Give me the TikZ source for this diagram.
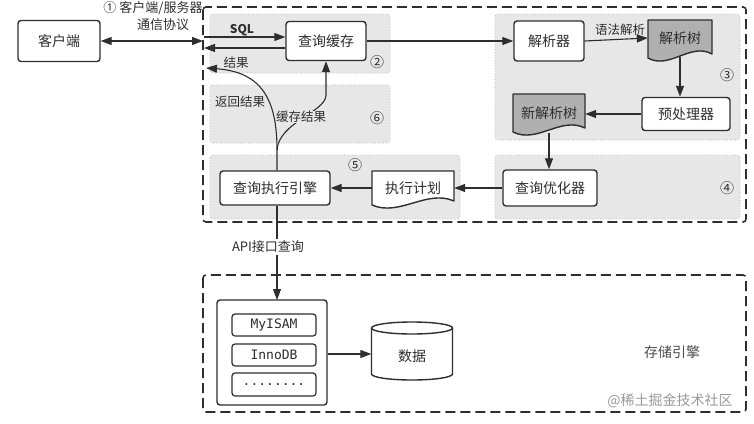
\documentclass[tikz,border=0pt]{standalone}
\usepackage{fontspec}
\setmainfont{Noto Sans CJK SC}
\newfontfamily\monof{DejaVu Sans Mono}
\usetikzlibrary{arrows.meta,calc}
\definecolor{ln}{HTML}{2E2E2E}
\definecolor{rg}{HTML}{E7E7E7}
\definecolor{rgb}{HTML}{ABABAB}
\definecolor{docg}{HTML}{B0B0B0}
\tikzset{
 box/.style={draw=ln, line width=1.4pt, rounded corners=3pt, fill=white, text=ln,
   font=\fontsize{14}{16}\selectfont, inner sep=0pt},
 docnode/.style={draw=none, text=ln, font=\fontsize{14}{16}\selectfont, inner sep=0pt},
 region/.style={fill=rg, draw=rgb, dotted, line width=0.7pt, rounded corners=3pt},
 outer/.style={draw=ln, line width=1.6pt, dash pattern=on 10pt off 5pt, rounded corners=3pt},
 tip/.style={Triangle[length=11pt,width=8pt]},
 arr/.style={draw=ln, line width=1.1pt, -{Triangle[length=11pt,width=8pt]}},
 lbl/.style={font=\fontsize{12.5}{14}\selectfont, text=ln, inner sep=0.5pt},
 num/.style={font=\fontsize{14}{16}\selectfont, text=ln, inner sep=0pt},
 eng/.style={draw=ln, line width=1.2pt, rounded corners=3pt, fill=white, text=ln,
   font=\monof\fontsize{13}{15}\selectfont, minimum width=84pt, inner sep=0pt},
}
% document shape: centre x, centre y, width, height, fill
\newcommand{\docshape}[5]{%
 \draw[fill=#5, draw=ln, line width=1.4pt, line join=round]
  ({#1-#3/2},{#2-#4/2}) -- ({#1+#3/2},{#2-#4/2}) -- ({#1+#3/2},{#2+#4/2-8})
  .. controls ({#1+#3/6},{#2+#4/2-20}) and ({#1-#3/6},{#2+#4/2+8}) ..
  ({#1-#3/2},{#2+#4/2-4}) -- cycle;}
\begin{document}
\begin{tikzpicture}[x=1pt,y=-1pt]
\useasboundingbox (0,0) rectangle (754,423);
% regions
\draw[region] (210,14) rectangle (390,73);
\draw[region] (210,85) rectangle (390,143);
\draw[region] (210,155) rectangle (460,219);
\draw[region] (495,14) rectangle (740,140);
\draw[region] (495,155) rectangle (740,219);
% outer dashed boxes
\draw[outer] (203,7) rectangle (746,222);
\draw[outer] (203,275) rectangle (746,412);

% client
\node[box, minimum width=82pt, minimum height=41pt] (client) at (59,41) {客户端};
\coordinate (srvin) at (203,41);
\draw[draw=ln, line width=1.3pt, {Triangle[length=11pt,width=8pt]}-{Triangle[length=11pt,width=8pt]}] (client.east) -- (srvin);
\node[lbl, font=\fontsize{13}{15}\selectfont] (proto1) at (153,8) {① 客户端/服务器};
\node[lbl, font=\fontsize{13}{15}\selectfont] (proto2) at (163,25) {通信协议};

% query cache
\node[box, minimum width=80pt, minimum height=39pt] (cache) at (326,41) {查询缓存};
\coordinate (sqlin) at (204,37);
\coordinate (resout) at (204,48);
\draw[arr] (sqlin) -- (sqlin -| cache.west);
\draw[arr] (resout -| cache.west) -- (resout);
\node[lbl, font=\fontsize{12}{14}\selectfont\bfseries] (sql) at (242,30) {SQL};
\node[lbl] (res) at (236,63) {结果};
\node[num] (n2) at (377,62) {②};

% parser area
\node[box, minimum width=70pt, minimum height=40pt] (parser) at (549,41) {解析器};
\docshape{680}{41}{64}{42}{docg}
\node[docnode, minimum width=64pt, minimum height=38pt] (ptree) at (680,38) {解析树};
\draw[arr] (cache.east) -- (parser.west);
\draw[arr] (parser.east) -- (ptree.west);
\node[lbl] (syn) at (620,30) {语法解析};
\node[box, minimum width=88pt, minimum height=33pt] (pre) at (686,114) {预处理器};
\draw[arr] (ptree.south) -- (ptree.south |- pre.north);
\docshape{549}{115}{72}{42}{docg}
\node[docnode, minimum width=72pt, minimum height=40pt] (ntree) at (549,113) {新解析树};
\draw[arr] (pre.west) -- (pre.west -| ntree.east);
\node[num] (n3) at (727,75) {③};

% optimiser
\node[box, minimum width=94pt, minimum height=36pt] (opt) at (550,188) {查询优化器};
\draw[arr] (ntree.south) -- (ntree.south |- opt.north);
\node[num] (n4) at (727,188) {④};

% plan and executor
\docshape{413}{190}{82}{38}{white}
\node[docnode, minimum width=82pt, minimum height=32pt] (plan) at (413,188) {执行计划};
\node[box, minimum width=110pt, minimum height=34pt] (exec) at (275,188) {查询执行引擎};
\draw[arr] (opt.west) -- (plan.east);
\draw[arr] (plan.west) -- (exec.east);
\node[num] (n5) at (355,165) {⑤};

% return / cache result curves
\coordinate (ret) at (206,68);
\coordinate (split) at (277,150);
\draw[arr] (exec.north -| split) -- (split) .. controls (277,100) and (262,72) .. (ret);
\draw[arr] (split) .. controls (279,122) and (326,112) .. (326,95) -- (cache.south);
\node[lbl, fill=rg] (retl) at (240,102) {返回结果};
\node[lbl, fill=rg] (cachel) at (301,117) {缓存结果};
\node[num] (n6) at (377,118) {⑥};

% storage engines
\node[draw=ln, line width=1.4pt, rounded corners=3pt, fill=white, minimum width=110pt, minimum height=105pt] (cont) at (272,352.5) {};
\node[eng, minimum height=22pt] (myisam) at (274,325) {MyISAM};
\node[eng, minimum height=22pt] (innodb) at (274,355) {InnoDB};
\node[eng, minimum height=23pt] (more) at (274,384.5) {........};
\draw[arr] (exec.south -| 277,0) -- (277,300);
\node[lbl, fill=white, font=\fontsize{13}{15}\selectfont, inner sep=2pt] (api) at (268,247) {API接口查询};

% data cylinder
\node[draw=none, minimum width=81pt, minimum height=50pt, text=ln, font=\fontsize{14}{16}\selectfont] (data) at (412,354) {};
\draw[draw=ln, line width=1.4pt, fill=white] (371.5,328) -- (371.5,374) arc[start angle=180, end angle=360, x radius=40.5pt, y radius=6pt] -- (452.5,328);
\draw[draw=ln, line width=1.4pt, fill=white] (412,328) ellipse[x radius=40.5pt, y radius=6pt];
\node[text=ln, font=\fontsize{14}{16}\selectfont] (datal) at (412,356) {数据};
\draw[arr] (cont.east |- data.west) -- (data.west);

\node[text=ln!85, font=\fontsize{14}{16}\selectfont] (stor) at (672,352) {存储引擎};
\node[text=black!40, font=\fontsize{14}{16}\selectfont] (wm) at (670,401) {@稀土掘金技术社区};
\end{tikzpicture}
\end{document}
